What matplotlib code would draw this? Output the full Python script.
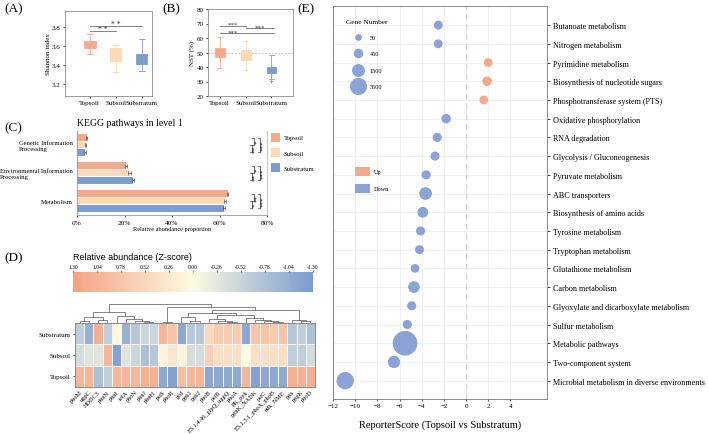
import matplotlib
matplotlib.use("Agg")
import matplotlib.pyplot as plt
import numpy as np
from matplotlib.colors import LinearSegmentedColormap, Normalize
from matplotlib.patches import Patch
from matplotlib.lines import Line2D

plt.rcParams["font.family"] = ["Liberation Serif", "DejaVu Serif"]

W, H = 708, 435

SOILS = ["Topsoil", "Subsoil", "Substratum"]
SOIL_COLOR = {"Topsoil": "#f4a88e", "Subsoil": "#fdd9b5", "Substratum": "#7f9dcc"}
UP_COLOR = "#f4a98e"
DOWN_COLOR = "#8ba3d4"

# (A) Shannon index: whislo, q1, med, q3, whishi
SHANNON = {
    "Topsoil": [3.51, 3.58, 3.62, 3.65, 3.73],
    "Subsoil": [3.32, 3.44, 3.50, 3.58, 3.61],
    "Substratum": [3.33, 3.41, 3.47, 3.52, 3.67],
}
# (B) NST (%)
NST = {
    "Topsoil": [39, 47, 50, 53, 61],
    "Subsoil": [38, 45, 48.5, 52, 58],
    "Substratum": [31.5, 36, 38, 40, 48],
}
NST_FLIERS = {"Topsoil": [], "Subsoil": [], "Substratum": [30.5]}

# (C) KEGG level 1 relative abundance (%)
KEGG_L1 = ["Genetic Information\nProcessing", "Environmental Information\nProcessing", "Metabolism"]
KEGG_VALS = {
    "Topsoil": [4.0, 20.8, 63.4],
    "Subsoil": [3.6, 22.2, 62.5],
    "Substratum": [3.4, 23.6, 61.8],
}
KEGG_ERR = {
    "Topsoil": [0.3, 0.4, 0.3],
    "Subsoil": [0.3, 0.6, 0.4],
    "Substratum": [0.3, 0.6, 0.5],
}
KEGG_SIG = [("*", "**", "***"), ("*", "**", "***"), ("**", "*", "***")]

# (D) heatmap z-scores
GENES = ["phoM", "ugpC", "HDDC3", "phnN", "phnI", "relA", "phoN", "phnJ", "phnH",
         "pstS", "phoR", "gcd", "ppk1", "ppk2", "phoB", "pstB", "E3.1.4.46_glpQ_ugpQ",
         "phoA", "PK_pyk", "ppnK_NADK", "pstC", "E3.1.3.1_phoA_phoB", "ndk_NME",
         "ppa", "ppgK", "phoD"]
HM_ROWS = ["Substratum", "Subsoil", "Topsoil"]
Z_SUBSTRATUM = [-0.6, -1.0, 1.1, -0.6, 0.05, -1.0, -0.7, -0.5, -0.5, 1.0, 0.8, -1.1, -0.7,
                -0.7, 0.5, 0.7, 0.7, 0.7, -1.1, 0.8, 0.8, 0.7, 0.8, -0.7, -0.6, -0.8]
Z_SUBSOIL = [-0.4, -0.3, -0.3, 1.0, -1.2, -0.3, -0.5, -0.8, -0.7, 0.1, 0.3, 0.1, -0.4,
             -0.4, 0.6, 0.4, 0.4, 0.4, 0.0, 0.4, 0.4, 0.4, 0.4, -0.6, -0.6, -0.4]
Z_TOPSOIL = [1.0, 1.0, -0.8, -0.6, 1.0, 1.0, 1.0, 1.1, 1.1, -1.1, -1.2, 0.9, 1.0,
             1.0, -1.1, -1.1, -1.1, -1.1, 1.0, -1.2, -1.1, -1.1, -1.1, 1.1, 1.1, 1.1]
# column dendrogram: (left, right, height), leaves are column indices
DEN_LEFT = (((0, 1, 0.12), (2, 3, 0.18), 0.33),
            (4, (5, (6, (7, 8, 0.04), 0.12), 0.22), 0.36), 0.56)
DEN_MID_A = (11, (12, 13, 0.08), 0.3)
DEN_MID_B = ((14, (15, (16, 17, 0.05), 0.1), 0.2),
             (18, (19, (20, (21, 22, 0.05), 0.1), 0.15), 0.25), 0.42)
DEN_TAIL = (23, (24, 25, 0.08), 0.15)
DEN_RIGHT = ((9, 10, 0.05), ((DEN_MID_A, DEN_MID_B, 0.55), DEN_TAIL, 0.66), 0.86)
DENDRO = (DEN_LEFT, DEN_RIGHT, 1.0)
CB_TICKS = [1.30, 1.04, 0.78, 0.52, 0.26, 0.00, -0.26, -0.52, -0.78, -1.04, -1.30]

# (E) ReporterScore
PATHWAYS = ["Butanoate metabolism", "Nitrogen metabolism", "Pyrimidine metabolism",
            "Biosynthesis of nucleotide sugars", "Phosphotransferase system (PTS)",
            "Oxidative phosphorylation", "RNA degradation", "Glycolysis / Gluconeogenesis",
            "Pyruvate metabolism", "ABC transporters", "Biosynthesis of amino acids",
            "Tyrosine metabolism", "Tryptophan metabolism", "Glutathione metabolism",
            "Carbon metabolism", "Glyoxylate and dicarboxylate metabolism",
            "Sulfur metabolism", "Metabolic pathways", "Two-component system",
            "Microbial metabolism in diverse environments"]
SCORES = [-2.5, -2.5, 2.0, 1.9, 1.6, -1.8, -2.6, -2.8, -3.6, -3.65, -3.9,
          -4.1, -4.2, -4.6, -4.7, -4.9, -5.3, -5.5, -6.5, -10.9]
GENE_NUM = [330, 330, 300, 450, 300, 450, 370, 370, 370, 1400, 750,
            370, 340, 300, 1030, 370, 370, 9600, 1250, 3670]
LEGEND_GENES = [50, 450, 1500, 3500]

fig = plt.figure(figsize=(W / 100, H / 100), dpi=100)


def px_axes(x0, y0, x1, y1):
    return fig.add_axes([x0 / W, 1 - y1 / H, (x1 - x0) / W, (y1 - y0) / H])


def gray_frame(ax, color="#8c8c8c"):
    for sp in ax.spines.values():
        sp.set_color(color)
        sp.set_linewidth(0.6)


def boxes(ax, data, fliers, width):
    stats = []
    for s in SOILS:
        lo, q1, med, q3, hi = data[s]
        stats.append(dict(whislo=lo, q1=q1, med=med, q3=q3, whishi=hi, fliers=fliers.get(s, [])))
    bp = ax.bxp(stats, positions=[1, 2, 3], widths=width, patch_artist=True,
                flierprops=dict(marker="+", markersize=3, markeredgewidth=0.6))
    for i, s in enumerate(SOILS):
        c = SOIL_COLOR[s]
        bp["boxes"][i].set(facecolor=c, edgecolor=c, linewidth=0.6)
        bp["medians"][i].set(color=c, linewidth=0.6)
        for art in bp["whiskers"][2 * i:2 * i + 2] + bp["caps"][2 * i:2 * i + 2]:
            art.set(color=c, linewidth=0.6)
        for f in bp["fliers"][i:i + 1]:
            f.set(markeredgecolor=c)


def sig(ax, x1, x2, y, text, xt=None, size=5.5):
    ax.plot([x1, x2], [y, y], color="#707070", lw=0.6)
    ax.text((x1 + x2) / 2 if xt is None else xt, y, text, ha="center", va="baseline",
            fontsize=size, color="#333333")


# ---------------- (A)
axA = px_axes(65, 12, 152, 97)
boxes(axA, SHANNON, {}, 0.45)
axA.set_xlim(0.05, 3.4)
axA.set_ylim(3.07, 3.97)
axA.set_yticks([3.2, 3.4, 3.6, 3.8])
axA.set_xticks([1, 2, 3], SOILS)
axA.set_ylabel("Shannon index", fontsize=5, labelpad=1)
axA.tick_params(labelsize=5, length=1.5, width=0.5, pad=1.5)
sig(axA, 1, 2, 3.76, "* *")
sig(axA, 1, 3, 3.81, "* *")
gray_frame(axA)

# ---------------- (B)
axB = px_axes(208, 10, 293, 97)
axB.axhline(50, color="#e8a0a0", lw=0.6, ls=(0, (2, 2)))
boxes(axB, NST, NST_FLIERS, 0.38)
axB.set_xlim(0.55, 3.83)
axB.set_ylim(20, 80)
axB.set_yticks(range(20, 81, 10))
axB.set_xticks([1, 2, 3], SOILS)
axB.set_ylabel("NST (%)", fontsize=5, labelpad=1)
axB.tick_params(labelsize=5, length=1.5, width=0.5, pad=1.5)
sig(axB, 1, 2, 68.6, "***", size=5)
sig(axB, 2, 3.1, 66.7, "***", size=5)
sig(axB, 1, 3.1, 63.2, "***", xt=1.5, size=5)
gray_frame(axB)

# ---------------- (C)
axC = px_axes(77, 132, 267, 216)
groups = np.arange(len(KEGG_L1))[::-1]
offs = {"Topsoil": 0.26, "Subsoil": 0.0, "Substratum": -0.26}
for s in SOILS:
    axC.barh(groups + offs[s], KEGG_VALS[s], height=0.24, color=SOIL_COLOR[s],
             xerr=KEGG_ERR[s], error_kw=dict(ecolor="#555555", elinewidth=0.5,
                                             capsize=1.5, capthick=0.5))
for g, (s1, s2, s3) in zip(groups, KEGG_SIG):
    yt, ym, yb = g + offs["Topsoil"], g, g + offs["Substratum"]
    for (ya, yb_, x, txt) in [(yt, ym, 74.5, s1), (ym, yb, 73.5, s2), (yt, yb, 77.0, s3)]:
        axC.plot([x - 0.8, x, x, x - 0.8], [ya, ya, yb_, yb_], color="#333333", lw=0.5)
        axC.text(x + 0.3, (ya + yb_) / 2, txt, rotation=90, ha="left", va="center",
                 fontsize=5)
axC.set_xlim(0, 80)
axC.set_ylim(-0.5, 2.5)
axC.set_xticks([0, 20, 40, 60, 80], ["0%", "20%", "40%", "60%", "80%"])
axC.set_yticks(groups, KEGG_L1)
for t in axC.get_yticklabels():
    t.set_multialignment("left")
axC.tick_params(labelsize=5.3, length=1.5, width=0.5, pad=2)
axC.tick_params(axis="y", length=0, labelsize=4.8, pad=3)
axC.set_xlabel("Relative abundance proportion", fontsize=4.5, labelpad=1)
axC.spines["top"].set_visible(False)
gray_frame(axC, "#999999")
axC.spines["right"].set_color("#bbbbbb")
fig.text(77 / W, 1 - 124 / H, "KEGG pathways in level 1", fontsize=7, va="center")
fig.legend(handles=[Patch(facecolor=SOIL_COLOR[s], edgecolor="none", label=s) for s in SOILS],
           loc="upper left", bbox_to_anchor=(265 / W, 1 - 128 / H), frameon=False,
           fontsize=4.8, handlelength=1.4, handleheight=1.6, labelspacing=1.0,
           handletextpad=0.5)

# ---------------- (D)
cmap = LinearSegmentedColormap.from_list("z", ["#7b9bce", "#fdfbe2", "#f4a283"])
norm = Normalize(-1.3, 1.3)
Z = np.array([Z_SUBSTRATUM, Z_SUBSOIL, Z_TOPSOIL])

axCB = px_axes(73, 273, 313, 293)
cb = fig.colorbar(plt.cm.ScalarMappable(norm=norm, cmap=cmap), cax=axCB,
                  orientation="horizontal")
cb.outline.set_visible(False)
axCB.invert_xaxis()
axCB.xaxis.set_ticks_position("top")
cb.set_ticks(CB_TICKS)
cb.set_ticklabels([f"{t:.2f}" for t in CB_TICKS])
axCB.tick_params(labelsize=4, length=1.2, width=0.4, pad=1)
fig.text(73 / W, 1 - 257 / H, "Relative abundance (Z-score)", fontsize=6.5, va="center",
         family=["Liberation Sans", "DejaVu Sans"])

axDen = px_axes(75, 305, 315, 324)


def draw_tree(node):
    if isinstance(node, int):
        return node + 0.5, 0.0
    left, right, h = node
    xl, hl = draw_tree(left)
    xr, hr = draw_tree(right)
    axDen.plot([xl, xl, xr, xr], [hl, h, h, hr], color="#555555", lw=0.5)
    return (xl + xr) / 2, h


draw_tree(DENDRO)
axDen.set_xlim(0, len(GENES))
axDen.set_ylim(0, 1.0)
axDen.axis("off")

axHM = px_axes(75, 324, 315, 388)
axHM.pcolormesh(Z, cmap=cmap, norm=norm, edgecolors="#f4f4f4", linewidth=0.4)
axHM.set_xlim(0, len(GENES))
axHM.set_ylim(0, len(HM_ROWS))
axHM.invert_yaxis()
axHM.set_yticks(np.arange(len(HM_ROWS)) + 0.5, HM_ROWS)
axHM.set_xticks(np.arange(len(GENES)) + 0.5, GENES, rotation=45, ha="right",
                rotation_mode="anchor")
axHM.tick_params(axis="y", labelsize=5, length=1.5, width=0.4, pad=1.5)
axHM.tick_params(axis="x", labelsize=4.5, length=0, pad=1.5)
gray_frame(axHM, "#777777")

# ---------------- (E)
axE = px_axes(333, 7, 547, 400)


def diam_pt(g):
    # point diameter in points, linear in sqrt(gene number)
    return (6.7 + 0.198 * (np.sqrt(g) - np.sqrt(50))) * 0.72


ypos = np.arange(len(PATHWAYS))
cols = [UP_COLOR if s > 0 else DOWN_COLOR for s in SCORES]
axE.scatter(SCORES, ypos, s=diam_pt(np.array(GENE_NUM)) ** 2, c=cols,
            edgecolors="none", zorder=3)
axE.axvline(0, color="#d0d0d0", lw=0.8, ls=(0, (5, 4)), zorder=1)
axE.set_xlim(-12, 7.3)
axE.set_ylim(len(PATHWAYS) - 1 + 0.98, -1.02)
axE.set_xticks(range(-12, 5, 2))
axE.set_yticks(ypos, PATHWAYS)
axE.yaxis.tick_right()
axE.grid(True, color="#ececec", lw=0.5)
axE.set_axisbelow(True)
axE.tick_params(axis="y", labelsize=5.9, length=2.5, width=0.5, pad=1.5)
axE.tick_params(axis="x", labelsize=5, length=1.5, width=0.5, pad=1.5)
axE.set_xlabel("ReporterScore (Topsoil vs Substratum)", fontsize=7.5, labelpad=8)
gray_frame(axE, "#777777")

size_handles = [Line2D([], [], ls="none", marker="o", markersize=diam_pt(g),
                       markerfacecolor=DOWN_COLOR, markeredgecolor="none", label=str(g))
                for g in LEGEND_GENES]
leg1 = axE.legend(handles=size_handles, title="Gene Number", loc="upper left",
                  bbox_to_anchor=(0.03, 0.985), frameon=False, fontsize=4.5,
                  title_fontsize=5.3, labelspacing=1.75, handletextpad=0.8,
                  borderpad=0.6)
axE.add_artist(leg1)
axE.legend(handles=[Patch(facecolor=UP_COLOR, label="Up"), Patch(facecolor=DOWN_COLOR, label="Down")],
           loc="upper left", bbox_to_anchor=(0.075, 0.605), frameon=False, fontsize=4.5,
           handlelength=2.4, handleheight=1.8, labelspacing=1.3, handletextpad=0.6)

# panel labels
for lab, x, y in [("(A)", 4, 9), ("(B)", 162, 9), ("(C)", 4, 128), ("(D)", 4, 258),
                  ("(E)", 297, 9)]:
    fig.text(x / W, 1 - y / H, lab, fontsize=9.5, va="center")

fig.savefig("out.png", dpi=100)
